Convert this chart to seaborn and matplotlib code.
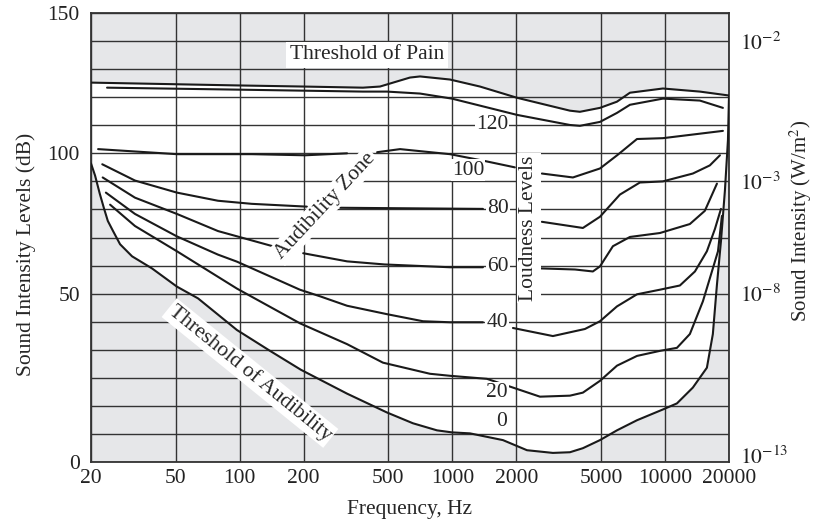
import numpy as np
import matplotlib
matplotlib.use("Agg")
import matplotlib.pyplot as plt
import seaborn as sns

# --- data: frequency (Hz) vs intensity level (dB) ---
pain_f = [20, 97, 199, 380, 457, 632, 705, 975, 1349, 2014, 3573, 3981, 4946,
          5944, 6843, 9776, 14590, 20000]
pain_db = [125.2, 124.2, 123.8, 123.4, 123.8, 127.0, 127.4, 126.3, 123.8, 119.8,
           115.2, 114.8, 116.2, 118.4, 121.6, 123.1, 122.0, 120.6]

# threshold of audibility (0 phon)
aud_f = [20, 20.9, 22.0, 23.0, 24.0, 25.4, 27.4, 31.2, 38.7, 50.7, 63.7, 97.1, 139,
         194, 320, 493, 653, 847, 995, 1211, 1730, 2244, 2971, 3573, 4111, 4946,
         5944, 7383, 9776, 11380, 13520, 15740, 16790, 17550, 18330, 19130, 19770,
         20000]
aud_db = [96.4, 92.1, 85.6, 80.5, 75.9, 72.3, 67.6, 63.3, 59.0, 52.5, 48.6, 39.2,
          33.0, 27.4, 20.3, 14.7, 11.5, 9.4, 8.8, 8.5, 6.5, 3.5, 2.7, 2.9, 4.1, 6.5,
          9.4, 12.4, 15.6, 17.4, 22.1, 28.0, 38.0, 53.2, 68.7, 86.7, 104.7, 120.6]

# equal loudness curves, split where labels interrupt them
phon_120 = [([23.8, 97, 380, 493, 705, 995, 1349, 2014, 3573, 3981, 4946, 5944,
              6843, 9776, 14590, 18720],
             [123.4, 122.7, 122.0, 122.0, 121.3, 119.5, 117.0, 113.7, 110.1, 109.8,
              111.2, 114.4, 117.3, 119.5, 118.8, 116.2])]
phon_100 = [([21.6, 50.7, 114, 203, 320], [101.5, 99.7, 99.7, 99.3, 100.0]),
            ([443, 568, 975, 1393, 1968], [100.4, 101.5, 99.7, 97.4, 95.0]),
            ([2637, 3690, 4946, 6000, 7383, 9776, 18720],
             [92.8, 91.4, 94.6, 99.5, 105.1, 105.4, 108.0])]
phon_80 = [([22.6, 32.2, 50.7, 79.1, 114, 207], [96.1, 90.3, 86.0, 83.1, 82.0, 81.0]),
           ([297, 1393], [80.6, 80.2]),
           ([2637, 4111, 4946, 6139, 7620, 9776, 13520, 16250, 18130],
            [75.6, 73.4, 77.4, 85.3, 89.6, 90.0, 92.8, 95.7, 99.3])]
phon_60 = [([22.7, 32.2, 50.7, 79.1, 143], [91.4, 84.2, 78.4, 72.3, 66.9]),
           ([199, 320, 480, 975, 1393], [64.4, 61.5, 60.4, 59.4, 59.4]),
           ([2583, 3774, 4580, 4946, 5690, 6843, 9464, 13090, 15390, 17550],
            [59.0, 58.6, 57.9, 59.7, 66.9, 70.2, 71.6, 74.8, 79.5, 89.2])]
phon_40 = [([23.5, 32.2, 50.7, 79.1, 97.1, 192, 239, 320, 493, 728, 975, 1393],
            [86.0, 78.4, 70.4, 63.9, 61.4, 51.4, 49.2, 46.4, 43.9, 41.8, 41.5, 41.5]),
           ([1928, 2971, 4203, 4946, 5944, 7383, 9464, 11750, 13830, 15740, 17180, 18330],
            [39.8, 37.4, 39.5, 41.8, 46.2, 49.8, 51.4, 52.9, 57.9, 65.1, 73.1, 80.2])]
phon_20 = [([24.6, 32.2, 50.7, 97.1, 192, 320, 472, 785, 975, 1455, 1928, 2583, 3573,
             4111, 4946, 5944, 7383, 9464, 11380, 13090, 15070, 16790, 17750, 18520],
            [81.7, 74.1, 65.1, 51.8, 41.2, 35.0, 29.5, 26.2, 25.6, 24.7, 22.1, 19.4,
             19.7, 20.6, 24.1, 28.6, 31.5, 33.0, 33.9, 38.0, 47.7, 59.0, 65.1, 77.7])]

loudness_labels = ["120", "100", "80", "60", "40", "20", "0"]
freq_ticks = [20, 50, 100, 200, 500, 1000, 2000, 5000, 10000, 20000]
db_ticks = [0, 50, 100, 150]
intensity_ticks = [2, 50, 90, 140]
intensity_labels = [r"$10^{-13}$", r"$10^{-8}$", r"$10^{-3}$", r"$10^{-2}$"]


# the printed axis is not linear: 0-50 dB spans 6 grid rows, 50-150 dB spans 10
def to_grid(db):
    db = np.asarray(db, dtype=float)
    return np.where(db < 50, db * 6 / 50, 6 + (db - 50) / 10)


def from_grid(g):
    g = np.asarray(g, dtype=float)
    return np.where(g < 6, g * 50 / 6, 50 + (g - 6) * 10)


grid_db = [k * 50 / 6 for k in range(6)] + list(range(50, 151, 10))

sns.set_theme(style="white")
plt.rcParams["font.family"] = ["Liberation Serif", "DejaVu Serif"]
plt.rcParams["mathtext.fontset"] = "stix"

fig = plt.figure(figsize=(8.16, 5.25), dpi=100)
ax = fig.add_axes([0.1115, 0.12, 0.7819, 0.8552])
ax.set_facecolor("#e6e7e9")
ax.set_xscale("log")
ax.set_yscale("function", functions=(to_grid, from_grid))
ax.set_xlim(20, 20000)
ax.set_ylim(0, 150)

# audible region in white
poly_f = np.concatenate([pain_f, aud_f[::-1]])
poly_db = np.concatenate([pain_db, aud_db[::-1]])
ax.fill(poly_f, poly_db, color="white", zorder=1, lw=0)

# grid
ax.set_axisbelow(False)
ax.set_xticks(freq_ticks)
ax.set_xticklabels([str(v) for v in freq_ticks])
ax.xaxis.set_minor_locator(matplotlib.ticker.NullLocator())
ax.set_yticks(db_ticks)
ax.set_yticklabels([str(v) for v in db_ticks])
ax.set_yticks(grid_db, minor=True)
ax.grid(True, which="major", axis="x", color="#333333", lw=1.0)
ax.grid(True, which="both", axis="y", color="#333333", lw=1.0)
ax.tick_params(axis="both", which="both", length=0, labelsize=15.5, colors="#222222")
ax.tick_params(axis="x", pad=5)
ax.tick_params(axis="y", pad=8)
for s in ax.spines.values():
    s.set_color("#333333")
    s.set_linewidth(1.3)

line_kw = dict(color="#1a1a1a", linewidth=1.5, sort=False, estimator=None, zorder=3)
sns.lineplot(x=pain_f, y=pain_db, ax=ax, **line_kw)
sns.lineplot(x=aud_f, y=aud_db, ax=ax, **line_kw)
for curve in [phon_120, phon_100, phon_80, phon_60, phon_40, phon_20]:
    for seg_f, seg_db in curve:
        sns.lineplot(x=seg_f, y=seg_db, ax=ax, **line_kw)

# texts
box = dict(facecolor="white", edgecolor="none", pad=2.5)
ax.text(0.4326, 0.9065, "Threshold of Pain", transform=ax.transAxes, fontsize=15.5,
        ha="center", va="center", bbox=box, zorder=4)
ax.text(0.3668, 0.5702, "Audibility Zone", transform=ax.transAxes, fontsize=15.5,
        ha="center", va="center", rotation=47, bbox=dict(box, pad=1.5), zorder=4)
ax.text(0.2492, 0.1982, "Threshold of Audibility", transform=ax.transAxes, fontsize=15.5,
        ha="center", va="center", rotation=-39, bbox=dict(box, pad=1.5), zorder=4)
ax.text(0.6865, 0.5212, "Loudness Levels", transform=ax.transAxes, fontsize=15.5,
        ha="center", va="center", rotation=90, bbox=dict(box, pad=1.5), zorder=4)

label_pos = [(0.6285, 0.7506), (0.5909, 0.6503), (0.6379, 0.5635), (0.6379, 0.4365),
             (0.6364, 0.3118), (0.6364, 0.1537), (0.6442, 0.0913)]
for lab, (px, py) in zip(loudness_labels, label_pos):
    ax.text(px, py, lab, transform=ax.transAxes, fontsize=15.5, ha="center",
            va="center", bbox=dict(box, pad=0.8), zorder=4)

ax.set_xlabel("Frequency, Hz", fontsize=15.5, labelpad=9)
ax.set_ylabel("Sound Intensity Levels (dB)", fontsize=15.5)
ax.yaxis.set_label_coords(-0.086, 0.463)

# right axis: intensity in W/m^2
ax2 = ax.twinx()
ax2.set_yscale("function", functions=(to_grid, from_grid))
ax2.set_ylim(0, 150)
ax2.set_yticks(intensity_ticks)
ax2.set_yticklabels(intensity_labels)
ax2.yaxis.set_minor_locator(matplotlib.ticker.NullLocator())
ax2.tick_params(axis="y", length=0, labelsize=15.5, pad=8, colors="#222222")
ax2.grid(False)
for s in ax2.spines.values():
    s.set_visible(False)
ax2.set_ylabel(r"Sound Intensity (W/m$^2$)", fontsize=15)
ax2.yaxis.set_label_coords(1.092, 0.537)

fig.savefig("out.png", dpi=100)
